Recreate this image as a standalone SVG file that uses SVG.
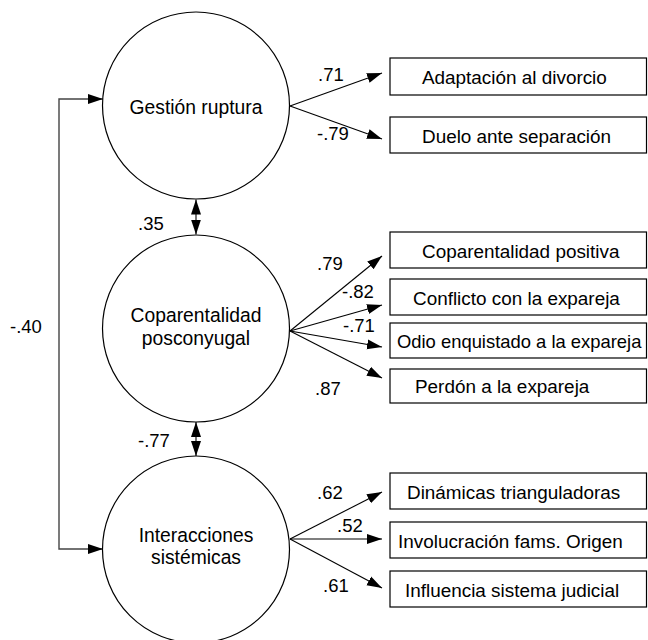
<svg xmlns="http://www.w3.org/2000/svg" width="648" height="640" viewBox="0 0 648 640">
<style>
.lat{fill:#fff;stroke:#000;stroke-width:1.2}
.box{fill:#fff;stroke:#000;stroke-width:1.2}
text{font-family:"Liberation Sans",Arial,sans-serif;fill:#000}
.ct{font-size:19.3px;text-anchor:middle}
.bt{font-size:18.9px}
.nt{font-size:18.5px}
.ln{stroke:#000;stroke-width:1.1;fill:none}
.br{stroke:#444;stroke-width:1.4;fill:none}
</style>
<defs>
<marker id="ah" markerUnits="userSpaceOnUse" markerWidth="16" markerHeight="12" refX="15" refY="5" orient="auto-start-reverse" viewBox="0 0 16 10">
<path d="M0,0 L15,5 L0,10 z" fill="#000"/>
</marker>
</defs>
<rect width="648" height="640" fill="#fff"/>
<g id="connectors">
<path class="br" d="M103,99 H59 V549 H103" marker-start="url(#ah)" marker-end="url(#ah)"/>
<line class="ln" x1="196" y1="199.5" x2="196" y2="234.5" marker-start="url(#ah)" marker-end="url(#ah)"/>
<line class="ln" x1="196" y1="422" x2="196" y2="456" marker-start="url(#ah)" marker-end="url(#ah)"/>
<line class="ln" x1="290" y1="106" x2="382" y2="73" marker-end="url(#ah)"/>
<line class="ln" x1="290" y1="106" x2="382" y2="139" marker-end="url(#ah)"/>
<line class="ln" x1="290" y1="331" x2="382" y2="256" marker-end="url(#ah)"/>
<line class="ln" x1="290" y1="331" x2="382" y2="305" marker-end="url(#ah)"/>
<line class="ln" x1="290" y1="331" x2="382" y2="347" marker-end="url(#ah)"/>
<line class="ln" x1="290" y1="331" x2="382" y2="378" marker-end="url(#ah)"/>
<line class="ln" x1="290" y1="539" x2="382" y2="492" marker-end="url(#ah)"/>
<line class="ln" x1="290" y1="539" x2="382" y2="539" marker-end="url(#ah)"/>
<line class="ln" x1="290" y1="539" x2="382" y2="588" marker-end="url(#ah)"/>
<text class="nt" x="318" y="81">.71</text>
<text class="nt" x="317" y="140">-.79</text>
<text class="nt" x="317" y="270">.79</text>
<text class="nt" x="342" y="298">-.82</text>
<text class="nt" x="343" y="332">-.71</text>
<text class="nt" x="315" y="395">.87</text>
<text class="nt" x="317" y="499">.62</text>
<text class="nt" x="337" y="532">.52</text>
<text class="nt" x="323" y="592">.61</text>
<text class="nt" x="138" y="230">.35</text>
<text class="nt" x="138" y="447">-.77</text>
<text class="nt" x="10" y="333">-.40</text>
</g>
<g id="gestion">
<circle class="lat" cx="196" cy="105.5" r="93.5"/>
<text class="ct" x="196" y="114">Gestión ruptura</text>
</g>
<g id="coparentalidad">
<circle class="lat" cx="196" cy="328.5" r="93.5"/>
<text class="ct" x="196" y="322">Coparentalidad</text>
<text class="ct" x="196" y="345">posconyugal</text>
</g>
<g id="interacciones">
<circle class="lat" cx="196" cy="549.5" r="93.5"/>
<text class="ct" x="196" y="542">Interacciones</text>
<text class="ct" x="196" y="564">sistémicas</text>
</g>
<g id="adaptacion"><rect class="box" x="390" y="58" width="256.5" height="37"/><text class="bt" x="422" y="84">Adaptación al divorcio</text></g>
<g id="duelo"><rect class="box" x="390" y="117" width="256.5" height="36"/><text class="bt" x="422" y="143">Duelo ante separación</text></g>
<g id="copositiva"><rect class="box" x="390" y="232" width="256.5" height="36"/><text class="bt" x="422" y="258">Coparentalidad positiva</text></g>
<g id="conflicto"><rect class="box" x="390" y="279" width="256.5" height="36"/><text class="bt" x="413" y="305">Conflicto con la expareja</text></g>
<g id="odio"><rect class="box" x="390" y="323" width="256.5" height="35"/><text class="bt" x="397" y="348" style="font-size:18.4px">Odio enquistado a la expareja</text></g>
<g id="perdon"><rect class="box" x="390" y="369" width="256.5" height="34"/><text class="bt" x="415" y="393">Perdón a la expareja</text></g>
<g id="dinamicas"><rect class="box" x="390" y="473" width="256.5" height="36"/><text class="bt" x="407" y="499">Dinámicas trianguladoras</text></g>
<g id="involucracion"><rect class="box" x="390" y="522" width="256.5" height="36"/><text class="bt" x="398" y="548">Involucración fams. Origen</text></g>
<g id="influencia"><rect class="box" x="390" y="571" width="256.5" height="36"/><text class="bt" x="405" y="597">Influencia sistema judicial</text></g>
</svg>
